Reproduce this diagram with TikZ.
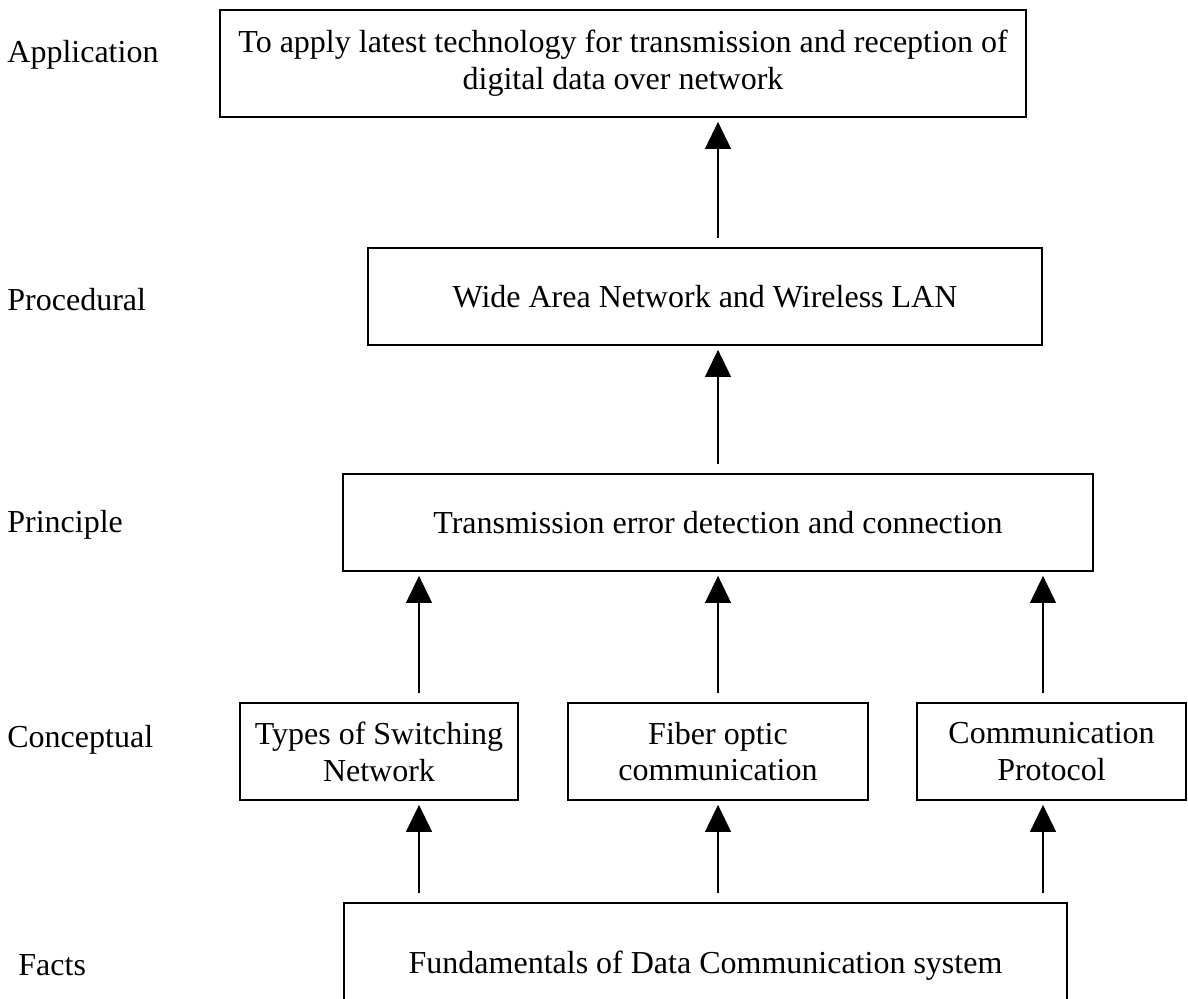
\documentclass[tikz,border=0pt]{standalone}
\usepackage{fontspec}
\setmainfont{Liberation Serif}
\usetikzlibrary{arrows.meta}

\tikzset{
	box/.style = {draw, line width = 0.9pt, align = center, inner sep = 0pt,
		font = \fontsize{16}{18.4}\selectfont},
	level/.style = {anchor = west, inner sep = 0pt, font = \fontsize{16}{18.4}\selectfont},
	upward/.style = {line width = 0.6pt, -{Triangle[length = 13.5pt, width = 13pt]},
		shorten <=4.5pt, shorten >=2pt},
}

\begin{document}
\begin{tikzpicture}[x = 0.5pt, y = -0.5pt]
		\useasboundingbox (0, 0) rectangle (1188, 998) ;
		\clip (0, 0) rectangle (1188, 998) ;
		\begin{scope} % Boxes
			\node [box, minimum width = 403pt, minimum height = 53.5pt] (app) at (623, 63.5)
				{To apply latest technology for transmission and reception of\\ digital data over network} ;
			\node [box, minimum width = 337pt, minimum height = 48.5pt] (proc) at (705, 296.5)
				{Wide Area Network and Wireless LAN} ;
			\node [box, minimum width = 375pt, minimum height = 48.5pt] (prin) at (718, 522.5)
				{Transmission error detection and connection} ;
			\node [box, minimum width = 139pt, minimum height = 48.5pt] (swit) at (379, 751.5)
				{Types of Switching\\ Network} ;
			\node [box, minimum width = 150pt, minimum height = 48.5pt] (fibr) at (718, 751.5)
				{Fiber optic\\ communication} ;
			\node [box, minimum width = 134.5pt, minimum height = 48.5pt] (prot) at (1051.5, 751.5)
				{Communication\\ Protocol} ;
			\node [box, minimum width = 361.5pt, minimum height = 63pt] (fund) at (705.5, 966)
				{Fundamentals of Data Communication system} ;
		\end{scope}
		\begin{scope} % Levels
			\node [level] (lapp) at (7, 55) {Application} ;
			\node [level] (lproc) at (7, 300) {Procedural} ;
			\node [level] (lprin) at (7, 525) {Principle} ;
			\node [level] (lconc) at (7, 740) {Conceptual} ;
			\node [level] (lfact) at (18, 965) {Facts} ;
		\end{scope}
		\coordinate (colA) at (419, 0) ;
		\coordinate (colB) at (718, 0) ;
		\coordinate (colC) at (1043, 0) ;
		\draw [upward] (proc.north -| colB) -- (app.south -| colB) ;
		\draw [upward] (prin.north -| colB) -- (proc.south -| colB) ;
		\foreach \c/\n in {colA/swit, colB/fibr, colC/prot}{
			\draw [upward] (\n.north -| \c) -- (prin.south -| \c) ;
			\draw [upward] (fund.north -| \c) -- (\n.south -| \c) ;
		}
	\end{tikzpicture}
\end{document}
